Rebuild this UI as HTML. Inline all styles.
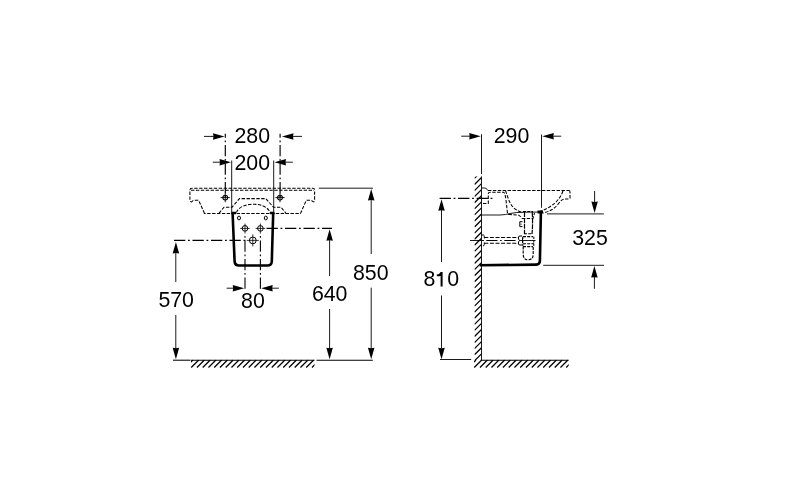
<!DOCTYPE html>
<html><head><meta charset="utf-8"><style>
html,body{margin:0;padding:0;background:#fff;}
svg{display:block;will-change:transform;}
text{font-family:"Liberation Sans",sans-serif;font-size:22px;fill:#000;}
</style></head><body>
<svg width="800" height="500" viewBox="0 0 800 500" stroke-linecap="butt">
<rect width="800" height="500" fill="#fff"/>
<line x1="225.3" y1="133.8" x2="225.3" y2="197.5" stroke="#000" stroke-width="1.15" stroke-dasharray="11.3 2.7 1.8 2.7" stroke-dashoffset="7.3"/>
<line x1="280.1" y1="133.8" x2="280.1" y2="197.5" stroke="#000" stroke-width="1.15" stroke-dasharray="11.3 2.7 1.8 2.7" stroke-dashoffset="7.3"/>
<line x1="204" y1="136.4" x2="214" y2="136.4" stroke="#000" stroke-width="0.9"/>
<path d="M224.50,136.40 L213.00,133.15 L213.46,136.40 L213.00,139.65 Z" fill="#000" stroke="none"/>
<line x1="292" y1="136.4" x2="302" y2="136.4" stroke="#000" stroke-width="0.9"/>
<path d="M282.00,136.40 L293.50,139.65 L293.04,136.40 L293.50,133.15 Z" fill="#000" stroke="none"/>
<text transform="translate(234.50,143.40) scale(0.97,1)">280</text>
<line x1="231.7" y1="160.5" x2="231.7" y2="213" stroke="#000" stroke-width="0.9"/>
<line x1="273.7" y1="160.5" x2="273.7" y2="213" stroke="#000" stroke-width="0.9"/>
<line x1="212.8" y1="162.2" x2="220" y2="162.2" stroke="#000" stroke-width="0.9"/>
<path d="M231.00,162.20 L219.50,158.95 L219.96,162.20 L219.50,165.45 Z" fill="#000" stroke="none"/>
<line x1="285" y1="162.2" x2="292.8" y2="162.2" stroke="#000" stroke-width="0.9"/>
<path d="M274.50,162.20 L286.00,165.45 L285.54,162.20 L286.00,158.95 Z" fill="#000" stroke="none"/>
<text transform="translate(234.50,170.00) scale(0.97,1)">200</text>
<path d="M204.5,213.4 L198.8,200.6 Q198.5,200.2 197.5,200.2 L194,200.2 Q193,200.3 192.3,201.3 Q191.5,202.2 190.6,201.6 Q189.9,201 189.9,200 L189.9,190.3 Q189.9,188.3 191.9,188.3 L313,188.3 Q314.6,188.3 314.6,190.3 L314.6,200.4 Q314.6,201.6 313.6,201.8 Q312.8,202 312.2,201 Q311.5,200.2 310.5,200.2 L307,200.2 Q306.5,200.2 306.2,200.6 L300.5,213.4 Z" stroke="#000" stroke-width="1.05" fill="none" stroke-dasharray="3.4 1.5"/>
<line x1="191" y1="190.3" x2="314" y2="190.3" stroke="#000" stroke-width="1.05" stroke-dasharray="3.4 1.5" stroke-dashoffset="0"/>
<path d="M219,213.3 L224,207.2 L232,207.2 L239.5,198.6 L265.8,198.6 L273.5,207.2 L281,207.2 L286,213.3" stroke="#000" stroke-width="1.05" fill="none" stroke-dasharray="3.4 1.5"/>
<path d="M236.4,212.5 C240.5,201.4 265.8,201.4 270.2,212.5" stroke="#000" stroke-width="1.05" fill="none" stroke-dasharray="3.4 1.5"/>
<circle cx="225.25" cy="197.6" r="2.4" stroke="#000" stroke-width="1.1" fill="none"/>
<path d="M220.65,197.6L229.85,197.6M225.25,193.0L225.25,202.2" stroke="#000" stroke-width="0.9" fill="none"/>
<circle cx="280" cy="197.6" r="2.4" stroke="#000" stroke-width="1.1" fill="none"/>
<path d="M275.4,197.6L284.6,197.6M280,193.0L280,202.2" stroke="#000" stroke-width="0.9" fill="none"/>
<path d="M232.6,213 L234.6,261.5 Q235,265.5 239,265.5 L267.5,265.5 Q271.5,265.5 271.8,261.5 L273.2,213" stroke="#000" stroke-width="2.6" fill="none"/>
<path d="M231.5,213 L236,213 M270,213 L274.5,213" stroke="#000" stroke-width="2.6" fill="none"/>
<ellipse cx="239" cy="218" rx="1.5" ry="1.9" stroke="#000" stroke-width="1" fill="none"/>
<ellipse cx="265.8" cy="218" rx="1.5" ry="1.9" stroke="#000" stroke-width="1" fill="none"/>
<circle cx="245" cy="228.4" r="2.8" stroke="#000" stroke-width="1" fill="none"/>
<path d="M240.2,228.4L249.8,228.4M245,223.6L245,233.20000000000002" stroke="#000" stroke-width="0.8" fill="none"/>
<circle cx="260.4" cy="228.4" r="2.8" stroke="#000" stroke-width="1" fill="none"/>
<path d="M255.59999999999997,228.4L265.2,228.4M260.4,223.6L260.4,233.20000000000002" stroke="#000" stroke-width="0.8" fill="none"/>
<circle cx="252.8" cy="240.4" r="3.4" stroke="#000" stroke-width="1" fill="none"/>
<path d="M246.8,240.4L258.8,240.4M252.8,234.4L252.8,246.4" stroke="#000" stroke-width="0.8" fill="none"/>
<line x1="265" y1="228.4" x2="332" y2="228.4" stroke="#000" stroke-width="1.1" stroke-dasharray="11.3 2.7 1.8 2.7" stroke-dashoffset="17"/>
<line x1="174" y1="240.4" x2="246" y2="240.4" stroke="#000" stroke-width="1.1" stroke-dasharray="11.3 2.7 1.8 2.7" stroke-dashoffset="0"/>
<line x1="245" y1="233" x2="245" y2="289.5" stroke="#000" stroke-width="1.1" stroke-dasharray="11.3 2.7 1.8 2.7" stroke-dashoffset="11"/>
<line x1="260.4" y1="233" x2="260.4" y2="289.5" stroke="#000" stroke-width="1.1" stroke-dasharray="11.3 2.7 1.8 2.7" stroke-dashoffset="11"/>
<line x1="226.6" y1="288.2" x2="236" y2="288.2" stroke="#000" stroke-width="0.9"/>
<path d="M244.20,288.20 L232.70,284.95 L233.16,288.20 L232.70,291.45 Z" fill="#000" stroke="none"/>
<line x1="270" y1="288.2" x2="278.8" y2="288.2" stroke="#000" stroke-width="0.9"/>
<path d="M261.20,288.20 L272.70,291.45 L272.24,288.20 L272.70,284.95 Z" fill="#000" stroke="none"/>
<text transform="translate(241.10,308.00) scale(0.97,1)">80</text>
<line x1="175.8" y1="252" x2="175.8" y2="282" stroke="#000" stroke-width="0.9"/>
<path d="M175.90,242.00 L172.65,253.50 L175.90,253.04 L179.15,253.50 Z" fill="#000" stroke="none"/>
<line x1="175.8" y1="315" x2="175.8" y2="349" stroke="#000" stroke-width="0.9"/>
<path d="M175.90,359.20 L179.15,347.70 L175.90,348.16 L172.65,347.70 Z" fill="#000" stroke="none"/>
<text transform="translate(158.40,307.00) scale(0.97,1)">570</text>
<line x1="329.6" y1="238" x2="329.6" y2="276" stroke="#000" stroke-width="0.9"/>
<path d="M329.60,229.20 L326.35,240.70 L329.60,240.24 L332.85,240.70 Z" fill="#000" stroke="none"/>
<line x1="329.6" y1="309" x2="329.6" y2="349" stroke="#000" stroke-width="0.9"/>
<path d="M329.60,359.20 L332.85,347.70 L329.60,348.16 L326.35,347.70 Z" fill="#000" stroke="none"/>
<text transform="translate(311.90,301.00) scale(0.97,1)">640</text>
<line x1="318.8" y1="188.2" x2="373" y2="188.2" stroke="#000" stroke-width="0.9"/>
<line x1="371.2" y1="198" x2="371.2" y2="254" stroke="#000" stroke-width="0.9"/>
<path d="M371.20,189.00 L367.95,200.50 L371.20,200.04 L374.45,200.50 Z" fill="#000" stroke="none"/>
<line x1="371.2" y1="287.6" x2="371.2" y2="349" stroke="#000" stroke-width="0.9"/>
<path d="M371.20,359.20 L374.45,347.70 L371.20,348.16 L367.95,347.70 Z" fill="#000" stroke="none"/>
<text transform="translate(353.00,280.40) scale(0.97,1)">850</text>
<line x1="173" y1="360.2" x2="190.5" y2="360.2" stroke="#000" stroke-width="1.05"/>
<line x1="191" y1="360.2" x2="314.5" y2="360.2" stroke="#000" stroke-width="1.05"/>
<line x1="316.5" y1="360.2" x2="372.8" y2="360.2" stroke="#000" stroke-width="1.05"/>
<clipPath id="c1"><rect x="191" y="359.5" width="123.5" height="9.0"/></clipPath>
<path d="M173.95,367.50L181.45,360.00M179.70,367.50L187.20,360.00M185.45,367.50L192.95,360.00M191.20,367.50L198.70,360.00M196.95,367.50L204.45,360.00M202.70,367.50L210.20,360.00M208.45,367.50L215.95,360.00M214.20,367.50L221.70,360.00M219.95,367.50L227.45,360.00M225.70,367.50L233.20,360.00M231.45,367.50L238.95,360.00M237.20,367.50L244.70,360.00M242.95,367.50L250.45,360.00M248.70,367.50L256.20,360.00M254.45,367.50L261.95,360.00M260.20,367.50L267.70,360.00M265.95,367.50L273.45,360.00M271.70,367.50L279.20,360.00M277.45,367.50L284.95,360.00M283.20,367.50L290.70,360.00M288.95,367.50L296.45,360.00M294.70,367.50L302.20,360.00M300.45,367.50L307.95,360.00M306.20,367.50L313.70,360.00M311.95,367.50L319.45,360.00" stroke="#000" stroke-width="1.25" fill="none" clip-path="url(#c1)"/>
<line x1="481.5" y1="134.2" x2="481.5" y2="174" stroke="#000" stroke-width="0.9"/>
<line x1="481.5" y1="176.4" x2="481.5" y2="360" stroke="#000" stroke-width="0.9"/>
<line x1="541.5" y1="134.5" x2="541.5" y2="207.8" stroke="#000" stroke-width="0.9"/>
<line x1="461.2" y1="136.2" x2="470" y2="136.2" stroke="#000" stroke-width="0.9"/>
<path d="M480.70,136.20 L469.20,132.95 L469.66,136.20 L469.20,139.45 Z" fill="#000" stroke="none"/>
<line x1="553" y1="136.2" x2="561.2" y2="136.2" stroke="#000" stroke-width="0.9"/>
<path d="M542.30,136.20 L553.80,139.45 L553.34,136.20 L553.80,132.95 Z" fill="#000" stroke="none"/>
<text transform="translate(493.70,143.20) scale(0.97,1)">290</text>
<clipPath id="c2"><rect x="474.5" y="176.5" width="7" height="183.5"/></clipPath>
<path d="M474.50,166.26L481.50,159.26M474.50,172.34L481.50,165.34M474.50,178.42L481.50,171.42M474.50,184.50L481.50,177.50M474.50,190.58L481.50,183.58M474.50,196.66L481.50,189.66M474.50,202.74L481.50,195.74M474.50,208.82L481.50,201.82M474.50,214.90L481.50,207.90M474.50,220.98L481.50,213.98M474.50,227.06L481.50,220.06M474.50,233.14L481.50,226.14M474.50,239.22L481.50,232.22M474.50,245.30L481.50,238.30M474.50,251.38L481.50,244.38M474.50,257.46L481.50,250.46M474.50,263.54L481.50,256.54M474.50,269.62L481.50,262.62M474.50,275.70L481.50,268.70M474.50,281.78L481.50,274.78M474.50,287.86L481.50,280.86M474.50,293.94L481.50,286.94M474.50,300.02L481.50,293.02M474.50,306.10L481.50,299.10M474.50,312.18L481.50,305.18M474.50,318.26L481.50,311.26M474.50,324.34L481.50,317.34M474.50,330.42L481.50,323.42M474.50,336.50L481.50,329.50M474.50,342.58L481.50,335.58M474.50,348.66L481.50,341.66M474.50,354.74L481.50,347.74M474.50,360.82L481.50,353.82M474.50,366.90L481.50,359.90" stroke="#000" stroke-width="1.25" fill="none" clip-path="url(#c2)"/>
<line x1="481.5" y1="360.2" x2="568.7" y2="360.2" stroke="#000" stroke-width="1.05"/>
<clipPath id="c3"><rect x="474" y="359.5" width="94.70000000000005" height="9.0"/></clipPath>
<path d="M456.95,367.50L464.45,360.00M462.70,367.50L470.20,360.00M468.45,367.50L475.95,360.00M474.20,367.50L481.70,360.00M479.95,367.50L487.45,360.00M485.70,367.50L493.20,360.00M491.45,367.50L498.95,360.00M497.20,367.50L504.70,360.00M502.95,367.50L510.45,360.00M508.70,367.50L516.20,360.00M514.45,367.50L521.95,360.00M520.20,367.50L527.70,360.00M525.95,367.50L533.45,360.00M531.70,367.50L539.20,360.00M537.45,367.50L544.95,360.00M543.20,367.50L550.70,360.00M548.95,367.50L556.45,360.00M554.70,367.50L562.20,360.00M560.45,367.50L567.95,360.00M566.20,367.50L573.70,360.00" stroke="#000" stroke-width="1.25" fill="none" clip-path="url(#c3)"/>
<line x1="439.6" y1="198.4" x2="493" y2="198.4" stroke="#000" stroke-width="1.1" stroke-dasharray="11.3 2.7 1.8 2.7" stroke-dashoffset="0"/>
<line x1="441.5" y1="210" x2="441.5" y2="262" stroke="#000" stroke-width="0.9"/>
<path d="M441.50,199.20 L438.25,210.70 L441.50,210.24 L444.75,210.70 Z" fill="#000" stroke="none"/>
<line x1="441.5" y1="295.5" x2="441.5" y2="348" stroke="#000" stroke-width="0.9"/>
<path d="M441.50,359.20 L444.75,347.70 L441.50,348.16 L438.25,347.70 Z" fill="#000" stroke="none"/>
<line x1="440" y1="359.5" x2="471.2" y2="359.5" stroke="#000" stroke-width="0.9"/>
<text transform="translate(423.60,286.40) scale(0.97,1)">8</text>
<text transform="translate(447.33,286.40) scale(0.97,1)">0</text>
<path d="M442.6,272 L442.6,286.5 L440.6,286.5 L440.6,275.9 Q439.5,276.1 436.8,276.2 L436.8,274.6 Q439.3,274.5 440.7,272 Z" stroke="none" stroke-width="0" fill="#000"/>
<line x1="547" y1="213.9" x2="603.8" y2="213.9" stroke="#000" stroke-width="0.9"/>
<line x1="543.2" y1="265.3" x2="604" y2="265.3" stroke="#000" stroke-width="0.9"/>
<line x1="594.6" y1="191" x2="594.6" y2="203" stroke="#000" stroke-width="0.9"/>
<path d="M594.60,213.10 L597.85,201.60 L594.60,202.06 L591.35,201.60 Z" fill="#000" stroke="none"/>
<line x1="594.4" y1="277" x2="594.4" y2="288.8" stroke="#000" stroke-width="0.9"/>
<path d="M594.40,266.10 L591.15,277.60 L594.40,277.14 L597.65,277.60 Z" fill="#000" stroke="none"/>
<text transform="translate(572.20,245.30) scale(0.97,1)">325</text>
<path d="M481.5,188 L485,188 Q486.5,188 487.8,190.5" stroke="#000" stroke-width="0.9" fill="none"/>
<line x1="488" y1="190.5" x2="569" y2="190.5" stroke="#000" stroke-width="1.05" stroke-dasharray="3.4 1.5" stroke-dashoffset="0"/>
<path d="M569,190.5 Q570,190.5 570,192 L570,198 Q570,199 569,199 L565,199 Q562,199 559,203 Q553,211 543,213" stroke="#000" stroke-width="1.05" fill="none" stroke-dasharray="3.4 1.5"/>
<path d="M563,191 Q558,205 540,211.5" stroke="#000" stroke-width="1.05" fill="none" stroke-dasharray="3.4 1.5"/>
<path d="M483,203.4 L488.3,203.4 L488.3,193.5 Q488.5,192.2 490,192.2 L503.5,192.2 Q505,192.6 506,200 L507.5,213.5 Q508,214.5 510,214.5 L518,215 Q519.5,215.2 522,218.4 L533,218.4 L534.5,213" stroke="#000" stroke-width="1.05" fill="none" stroke-dasharray="3.4 1.5"/>
<path d="M505.5,190.6 C509,200 510,209.5 523,212.5" stroke="#000" stroke-width="1.05" fill="none" stroke-dasharray="3.4 1.5"/>
<path d="M481.5,215 L500,215 Q506,214.8 510,213.5 Q516,212.2 525,212.2 L541,212" stroke="#000" stroke-width="0.9" fill="none"/>
<path d="M523,211.5 L533,211.5" stroke="#000" stroke-width="1.05" fill="none" stroke-dasharray="3 1.2"/>
<path d="M524.5,212 L524.5,234 M532.2,212 Q533,224 532,234" stroke="#000" stroke-width="1.2" fill="none" stroke-dasharray="5 0.9"/>
<path d="M519.8,221.7 L522.5,221.7 M519.8,221.7 L519.8,226.6 L522.5,226.6 M520.5,224.2 L521.5,224.2" stroke="#000" stroke-width="1" fill="none"/>
<path d="M524,233.8 L532,233.8 M523,236.6 L533,236.6" stroke="#000" stroke-width="1.05" fill="none" stroke-dasharray="3 1.2"/>
<line x1="519.5" y1="240.5" x2="535.5" y2="240.5" stroke="#000" stroke-width="0.9"/>
<path d="M523,243.8 L534,243.8 M523,246.6 L533,246.6" stroke="#000" stroke-width="1.05" fill="none" stroke-dasharray="3 1.2"/>
<path d="M523.2,246.5 L523.2,254 Q523.2,259.8 528.2,259.8 Q533.2,259.8 533.2,254 L533.2,246.5" stroke="#000" stroke-width="1.15" fill="none" stroke-dasharray="3 1.1"/>
<path d="M522.8,236.6 L522.8,246.5 M533.8,236.6 L533.8,246.5" stroke="#000" stroke-width="1" fill="none" stroke-dasharray="2.5 1"/>
<line x1="484.3" y1="237.4" x2="518.5" y2="237.4" stroke="#000" stroke-width="1.05" stroke-dasharray="4 1.6" stroke-dashoffset="0"/>
<line x1="484.3" y1="243.2" x2="518.5" y2="243.2" stroke="#000" stroke-width="1.05" stroke-dasharray="4 1.6" stroke-dashoffset="0"/>
<line x1="470" y1="240.5" x2="484" y2="240.5" stroke="#000" stroke-width="0.9"/>
<line x1="486.3" y1="240.5" x2="517" y2="240.5" stroke="#000" stroke-width="1.05" stroke-dasharray="11.2 2.6 1.6 2.6" stroke-dashoffset="0"/>
<path d="M482,235 L483.5,235 Q484.3,235.2 484.3,236.5 L484.3,238.5 M484.3,242.5 L484.3,244.5 Q484.3,245.8 483,246" stroke="#000" stroke-width="1" fill="none"/>
<path d="M518.5,237 Q518.5,236 520,236 L522,236 M518.5,237 L518.5,239 Q520.5,240.5 518.5,242 L518.5,244 Q518.5,245 520,245 L522,245 M522.5,237.5 L522.5,243" stroke="#000" stroke-width="1" fill="none"/>
<path d="M540.9,212 L539.9,261 Q539.8,264.5 536.2,264.6 L479.6,265.3" stroke="#000" stroke-width="2.6" fill="none"/>
<path d="M537.5,212 L543,212" stroke="#000" stroke-width="3" fill="none"/>
</svg>
</body></html>
